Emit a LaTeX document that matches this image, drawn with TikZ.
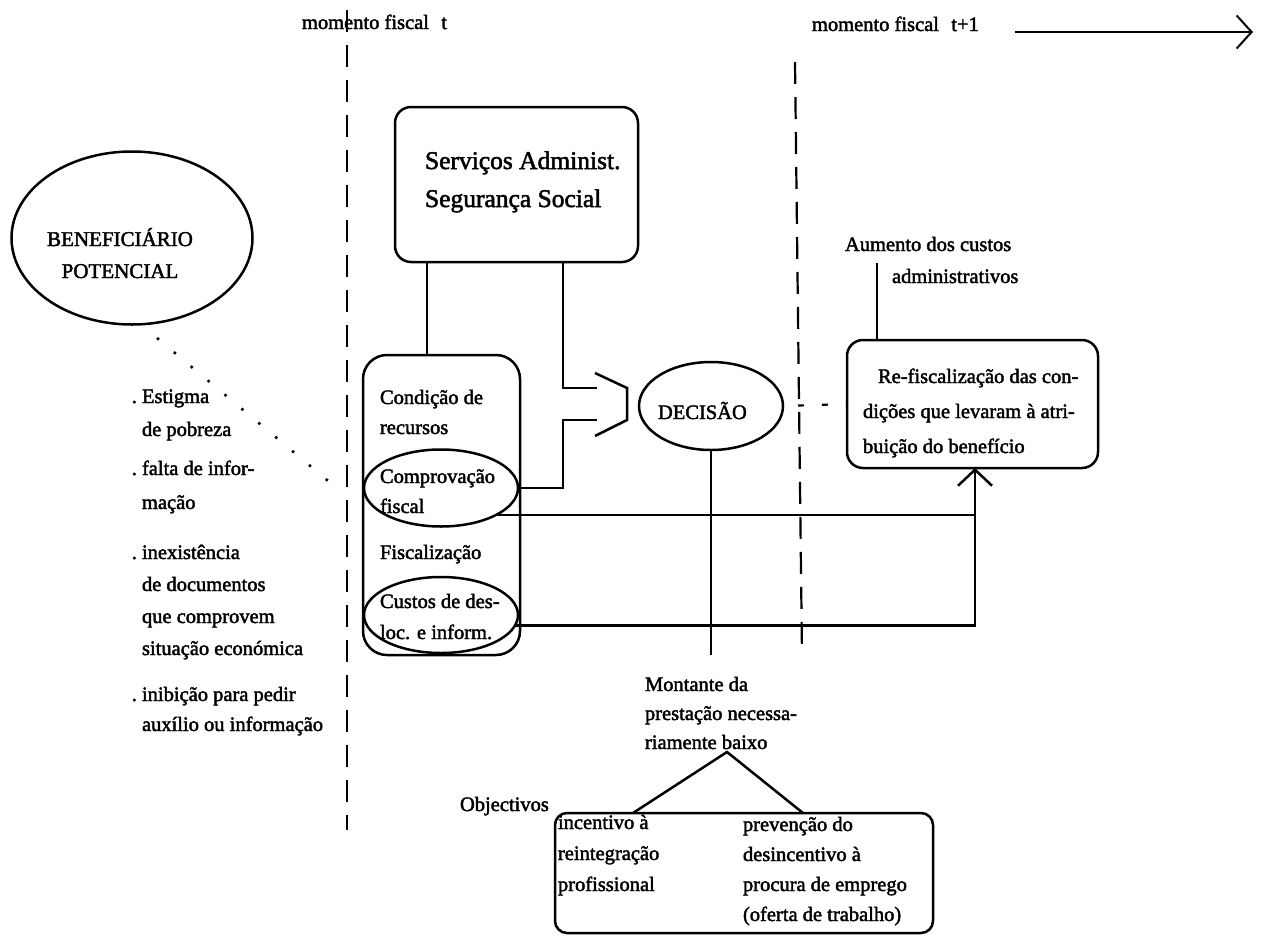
\documentclass[tikz,border=0pt]{standalone}
\usepackage{fontspec}
\setmainfont{Liberation Serif}[FakeBold=2]
\usetikzlibrary{arrows.meta,calc,shapes.geometric}
\newcommand{\txtl}[3]{{\fontsize{#1}{#2}\selectfont\begin{tabular}[t]{@{}l@{}}#3\end{tabular}}}
\newcommand{\txtc}[3]{{\fontsize{#1}{#2}\selectfont\begin{tabular}[t]{@{}c@{}}#3\end{tabular}}}
\begin{document}
\begin{tikzpicture}[x=1pt,y=-1pt,line width=2.5pt,
  every node/.style={inner sep=0pt,outer sep=0pt},
  txt/.style={anchor=base west,font=\fontsize{20.5}{31}\selectfont},
  ctxt/.style={anchor=base,font=\fontsize{20.5}{31}\selectfont},
  box/.style={draw,rectangle,rounded corners=16pt},
  oval/.style={draw,ellipse},
  vdash/.style={line width=2.2pt,dash pattern=on 22pt off 13pt},
  dots/.style={line width=2.6pt,dash pattern=on 2.5pt off 19.5pt},
  shortdash/.style={line width=2.2pt,dash pattern=on 6pt off 18pt,dash phase=9pt},
  barb/.style={-{Straight Barb[length=16pt,width=34pt]}},
  barbtop/.style={line width=2pt,-{Straight Barb[length=15pt,width=33pt]}}]
\useasboundingbox (0,0) rectangle (1264,935);

% time lines
\coordinate (tA) at (347,10); \coordinate (tB) at (347,830);
\coordinate (uA) at (795,62); \coordinate (uB) at (802,655);
\draw[vdash] (tA) -- (tB);
\draw[vdash] (uA) -- (uB);
\node[txt] (mt) at (302,29) {momento fiscal\hspace{0.6em}t};
\node[txt] (mt1) at (812,31) {momento fiscal\hspace{0.6em}t+1};
\coordinate (arS) at (1015,32); \coordinate (arE) at (1253,32);
\draw[barbtop] (arS) -- (arE);

% beneficiario
\node[oval,minimum width=241pt,minimum height=173pt] (benef) at (132,238) {};
\node[ctxt] (benefT) at (120,246) {\txtc{21}{32}{BENEFICIÁRIO\\POTENCIAL}};
\coordinate (d1) at (157,338); \coordinate (d2) at (333,485);
\draw[dots] (d1) -- (d2);

% left list
\node[txt] (e1) at (142,403) {\txtl{20.5}{33}{\llap{.\ }Estigma\\de pobreza}};
\node[txt] (e2) at (142,475) {\txtl{20.5}{34}{\llap{.\ }falta de infor-\\mação}};
\node[txt] (e3) at (142,559) {\txtl{20.5}{32}{\llap{.\ }inexistência\\de documentos\\que comprovem\\situação económica}};
\node[txt] (e4) at (142,701) {\txtl{20.5}{30}{\llap{.\ }inibição para pedir\\auxílio ou informação}};

% servicos
\node[box,minimum width=243pt,minimum height=155pt] (serv) at (516.5,184.5) {};
\node[txt,font=\fontsize{25.5}{38}\selectfont] (servT) at (425,169) {\txtl{25.5}{38}{Serviços Administ.\\Segurança Social}};

% condicao box
\node[box,rounded corners=24pt,minimum width=157pt,minimum height=300pt] (cond) at (441.5,505) {};
\node[oval,minimum width=154pt,minimum height=77pt] (comp) at (441,488) {};
\node[oval,minimum width=154pt,minimum height=76pt] (custos) at (441,615) {};
\node[txt] (c1) at (380,404) {\txtl{20.5}{30}{Condição de\\recursos}};
\node[txt] (c2) at (380,483) {\txtl{20.5}{30}{Comprovação\\fiscal}};
\node[txt] (c3) at (380,559) {Fiscalização};
\node[txt] (c4) at (380,608) {\txtl{20.5}{31}{Custos de des-\\loc. e inform.}};

% decisao
\node[oval,minimum width=144pt,minimum height=88pt] (dec) at (711,406) {};
\node[txt] (decT) at (658,419) {DECISÃO};
\coordinate (decEnd) at (711,655);
\draw (dec.south) -- (dec.south |- decEnd);

% connections from servicos
\draw (serv.south west) ++(32,0) coordinate (s1) -- (s1 |- cond.north);
\draw (serv.south west) ++(168,0) coordinate (s2) -- ++(0,126) -- ++(34,0);
\draw (comp.east) -- (comp.east -| s2) -- ++(0,-68) -- ++(34,0);
\draw[line join=miter] (595,373) -- (627,388) -- (627,420) -- (595,436);

% re-fiscalizacao
\node[box,minimum width=251pt,minimum height=128pt] (refisc) at (972.5,404) {};
\node[txt] (refT) at (863,383) {\txtl{20.5}{35}{\hspace{15pt}Re-fiscalização das con-\\dições que levaram à atri-\\buição do benefício}};
\draw[shortdash] (dec.east) -- (refisc.west);
\coordinate (arX) at (975,0);
\draw (comp.south east) -- (comp.south east -| arX);
\draw[barb] (custos.-8) -- (custos.-8 -| arX) -- (refisc.south -| arX);

% aumento
\draw (refisc.north west) ++(30,0) coordinate (r1) -- ++(0,-77);
\node[txt] (au1) at (845,251) {Aumento dos custos};
\node[txt] (au2) at (892,283) {administrativos};

% montante and objectives
\node[txt] (mont) at (645,691) {\txtl{20.5}{29}{Montante da\\prestação necessa-\\riamente baixo}};
\coordinate (apex) at (727,752);
\node[box,rounded corners=12pt,minimum width=378pt,minimum height=120pt] (obj) at (744,873) {};
\draw (obj.north west) ++(78,0) -- (apex) -- ($(obj.north west)+(248,0)$);
\node[txt] (objT) at (460,811) {Objectivos};
\node[txt] (o1) at (558,829) {\txtl{20.5}{31}{incentivo à\\reintegração\\profissional}};
\node[txt] (o2) at (743,831) {\txtl{20.5}{30}{prevenção do\\desincentivo à\\procura de emprego\\(oferta de trabalho)}};
\end{tikzpicture}
\end{document}
